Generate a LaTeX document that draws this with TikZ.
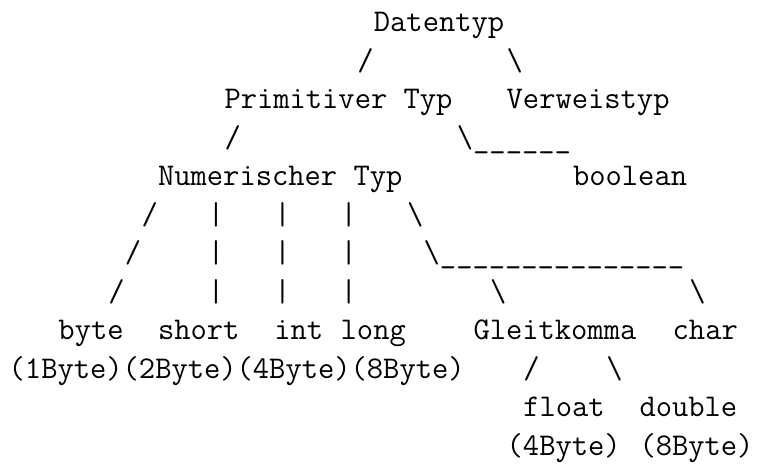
\documentclass[tikz,border=0pt]{standalone}
\begin{document}
\begin{tikzpicture}[x=16.6pt,y=-38.5pt,
  ascii/.style={inner sep=0pt,outer sep=0pt,anchor=base west,
    font=\fontsize{31.62pt}{38.5pt}\selectfont\ttfamily}]
\useasboundingbox (0,0) rectangle (45.964,12.052);
\newcommand\putc[4]{\node[ascii] (#1) at ({#2+0.524},{#3+0.831}) {#4};}
% line 0
\putc{datentyp}{22}{0}{Datentyp}
% line 1
\putc{l1a}{21}{1}{/}
\putc{l1b}{30}{1}{\textbackslash}
% line 2
\putc{primitiv}{13}{2}{Primitiver Typ}
\putc{verweis}{30}{2}{Verweistyp}
% line 3
\putc{l3a}{13}{3}{/}
\putc{l3b}{27}{3}{\textbackslash\_\_\_\_\_\_}
% line 4
\putc{numerisch}{9}{4}{Numerischer Typ}
\putc{boolean}{34}{4}{boolean}
% line 5
\putc{l5a}{8}{5}{/}
\putc{l5b}{12}{5}{|}
\putc{l5c}{16}{5}{|}
\putc{l5d}{20}{5}{|}
\putc{l5e}{24}{5}{\textbackslash}
% line 6
\putc{l6a}{7}{6}{/}
\putc{l6b}{12}{6}{|}
\putc{l6c}{16}{6}{|}
\putc{l6d}{20}{6}{|}
\putc{l6e}{25}{6}{\textbackslash\_\_\_\_\_\_\_\_\_\_\_\_\_\_\_}
% line 7
\putc{l7a}{6}{7}{/}
\putc{l7b}{12}{7}{|}
\putc{l7c}{16}{7}{|}
\putc{l7d}{20}{7}{|}
\putc{l7e}{29}{7}{\textbackslash}
\putc{l7f}{41}{7}{\textbackslash}
% line 8
\putc{byte}{3}{8}{byte}
\putc{short}{9}{8}{short}
\putc{int}{16}{8}{int}
\putc{long}{20}{8}{long}
\putc{gleit}{28}{8}{Gleitkomma}
\putc{char}{40}{8}{char}
% line 9
\putc{sizes}{0}{9}{(1Byte)(2Byte)(4Byte)(8Byte)}
\putc{l9a}{31}{9}{/}
\putc{l9b}{36}{9}{\textbackslash}
% line 10
\putc{float}{31}{10}{float}
\putc{double}{38}{10}{double}
% line 11
\putc{floatsize}{30}{11}{(4Byte)}
\putc{doublesize}{38}{11}{(8Byte)}
\end{tikzpicture}
\end{document}
